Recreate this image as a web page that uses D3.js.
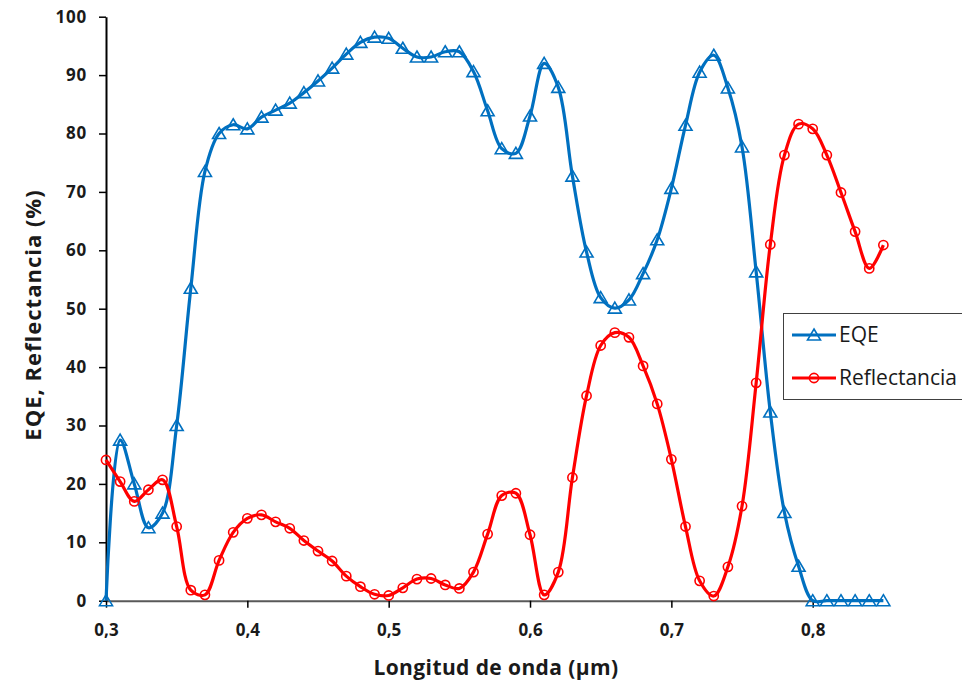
<!DOCTYPE html>
<html>
<head>
<meta charset="utf-8">
<script src="https://cdn.jsdelivr.net/npm/d3@7"></script>
<style>
  html, body { margin: 0; padding: 0; background: #fff; }
  svg { display: block; }
</style>
</head>
<body>
<svg id="chart" width="962" height="685"></svg>
<script>
// Wavelength samples (µm)
const wavelengths = [
  0.30,0.31,0.32,0.33,0.34,0.35,0.36,0.37,0.38,0.39,
  0.40,0.41,0.42,0.43,0.44,0.45,0.46,0.47,0.48,0.49,
  0.50,0.51,0.52,0.53,0.54,0.55,0.56,0.57,0.58,0.59,
  0.60,0.61,0.62,0.63,0.64,0.65,0.66,0.67,0.68,0.69,
  0.70,0.71,0.72,0.73,0.74,0.75,0.76,0.77,0.78,0.79,
  0.80,0.81,0.82,0.83,0.84,0.85
];

// External quantum efficiency (%)
const eqe = [
  0, 27.5, 20.0, 12.5, 15.0, 30.0, 53.5, 73.5, 80.0, 81.5,
  80.8, 82.8, 84.0, 85.2, 87.0, 89.0, 91.2, 93.6, 95.6, 96.5,
  96.3, 94.6, 93.1, 93.1, 94.0, 94.0, 90.6, 83.9, 77.4, 76.6,
  83.0, 92.0, 87.9, 72.7, 59.7, 51.9, 50.1, 51.5, 56.0, 61.8,
  70.6, 81.4, 90.5, 93.4, 87.8, 77.7, 56.3, 32.3, 15.1, 5.9,
  0, 0, 0, 0, 0, 0
];

// Reflectance (%)
const reflectancia = [
  24.1, 20.4, 17.0, 19.0, 20.7, 12.7, 1.8, 1.0, 6.9, 11.7,
  14.1, 14.7, 13.5, 12.4, 10.3, 8.5, 6.8, 4.2, 2.4, 1.1,
  0.9, 2.2, 3.7, 3.8, 2.7, 2.1, 4.9, 11.4, 18.0, 18.4,
  11.3, 1.0, 4.9, 21.1, 35.1, 43.7, 45.9, 45.1, 40.2, 33.7,
  24.2, 12.7, 3.4, 0.8, 5.8, 16.2, 37.3, 61.0, 76.3, 81.6,
  80.8, 76.3, 69.9, 63.2, 56.9, 60.9
];

const xTicks = [0.3, 0.4, 0.5, 0.6, 0.7, 0.8];
const yTicks = [0, 10, 20, 30, 40, 50, 60, 70, 80, 90, 100];
const seriesNames = ["EQE", "Reflectancia"];
const seriesColors = ["#0070C0", "#FF0000"];

const svg = d3.select("#chart");
const font = "'Open Sans', Lato, 'Liberation Sans', sans-serif";

const x = d3.scaleLinear().domain([0.3, 0.8]).range([106, 812.7]);
const y = d3.scaleLinear().domain([0, 100]).range([600.7, 16.7]);

const locale = d3.formatLocale({ decimal: ",", thousands: ".", grouping: [3], currency: ["", "€"] });
const fmtX = locale.format(".1f");

// X axis (ends at 0,8; data continues beyond)
const xAxis = svg.append("g")
  .attr("transform", `translate(0,${y(0)})`)
  .call(d3.axisBottom(x).tickValues(xTicks).tickFormat(fmtX).tickSize(7).tickSizeOuter(0));
xAxis.select(".domain").attr("stroke", "#595959").attr("stroke-width", 2);
xAxis.selectAll(".tick line").attr("stroke", "#000").attr("stroke-width", 1.5);
xAxis.selectAll(".tick text")
  .attr("y", 23)
  .attr("fill", "#1a1a1a")
  .style("font-family", font)
  .style("font-weight", "bold")
  .style("font-size", "17px");

// Y axis
const yAxis = svg.append("g")
  .attr("transform", `translate(${x(0.3)},0)`)
  .call(d3.axisLeft(y).tickValues(yTicks).tickSize(7).tickSizeOuter(0));
yAxis.select(".domain").attr("stroke", "#000").attr("stroke-width", 2);
yAxis.selectAll(".tick line").attr("stroke", "#000").attr("stroke-width", 1.5);
yAxis.selectAll(".tick text")
  .attr("x", -19)
  .attr("fill", "#1a1a1a")
  .style("font-family", font)
  .style("font-weight", "bold")
  .style("font-size", "17px")
  .style("letter-spacing", "0.8px");

// Axis titles
svg.append("text")
  .attr("x", 496).attr("y", 675)
  .attr("text-anchor", "middle")
  .attr("fill", "#1a1a1a")
  .style("font-family", font)
  .style("font-weight", "bold")
  .style("font-size", "21px")
  .style("letter-spacing", "0.4px")
  .text("Longitud de onda (µm)");

svg.append("text")
  .attr("transform", "translate(41,315) rotate(-90)")
  .attr("text-anchor", "middle")
  .attr("fill", "#1a1a1a")
  .style("font-family", font)
  .style("font-weight", "bold")
  .style("font-size", "22px")
  .style("letter-spacing", "1px")
  .text("EQE, Reflectancia (%)");

// Series
const series = [
  { name: seriesNames[0], color: seriesColors[0], values: eqe, marker: "triangle" },
  { name: seriesNames[1], color: seriesColors[1], values: reflectancia, marker: "circle" }
];

const line = d3.line()
  .x(d => x(d[0]))
  .y(d => y(d[1]))
  .curve(d3.curveCatmullRom.alpha(0.5));

const trianglePath = "M0,-6 L6.5,5 L-6.5,5 Z";

function drawMarker(g, shape, color) {
  if (shape === "triangle") {
    g.append("path").attr("d", trianglePath)
      .attr("fill", "none").attr("stroke", color).attr("stroke-width", 1.6);
  } else {
    g.append("circle").attr("r", 4.6)
      .attr("fill", "none").attr("stroke", color).attr("stroke-width", 1.6);
  }
}

series.forEach(s => {
  const pts = wavelengths.map((w, i) => [w, s.values[i]]);
  const g = svg.append("g");
  g.append("path")
    .attr("d", line(pts))
    .attr("fill", "none")
    .attr("stroke", s.color)
    .attr("stroke-width", 3.2)
    .attr("stroke-linejoin", "round");
  pts.forEach(p => {
    const m = g.append("g").attr("transform", `translate(${x(p[0])},${y(p[1])})`);
    drawMarker(m, s.marker, s.color);
  });
});

// Legend
const legend = svg.append("g");
legend.append("rect")
  .attr("x", 783.5).attr("y", 313.5)
  .attr("width", 190).attr("height", 86)
  .attr("fill", "#fff")
  .attr("stroke", "#404040").attr("stroke-width", 1);

series.forEach((s, i) => {
  const cy = 335 + i * 43;
  legend.append("line")
    .attr("x1", 792).attr("x2", 836)
    .attr("y1", cy).attr("y2", cy)
    .attr("stroke", s.color).attr("stroke-width", 3.2);
  const m = legend.append("g").attr("transform", `translate(814,${cy})`);
  drawMarker(m, s.marker, s.color);
  legend.append("text")
    .attr("x", 839).attr("y", cy)
    .attr("dy", "0.35em")
    .attr("fill", "#1a1a1a")
    .style("font-family", font)
    .style("font-size", "21px")
    .text(s.name);
});
</script>
</body>
</html>
